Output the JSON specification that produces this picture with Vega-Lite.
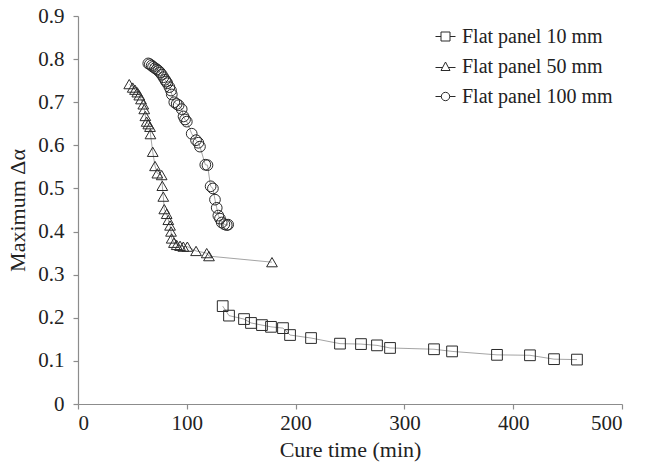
{
  "$schema": "https://vega.github.io/schema/vega-lite/v6.json",
  "width": 544,
  "height": 388,
  "autosize": {"type": "none"},
  "padding": {"left": 78, "top": 16, "right": 27, "bottom": 63},
  "background": "white",
  "config": {
    "view": {"stroke": null},
    "font": "Liberation Serif",
    "axis": {
      "grid": false,
      "domainColor": "#8c8c8c",
      "tickColor": "#8c8c8c",
      "domainWidth": 1.2,
      "tickWidth": 1.2,
      "tickSize": 5,
      "labelFont": "Liberation Serif",
      "labelFontSize": 21,
      "labelColor": "#222",
      "titleFont": "Liberation Serif",
      "titleFontSize": 22,
      "titleFontWeight": "normal",
      "titleColor": "#222"
    },
    "legend": {
      "labelFont": "Liberation Serif",
      "labelFontSize": 20,
      "labelColor": "#222"
    }
  },
  "data": {
    "values": [
      {"series": "Flat panel 10 mm", "t": 133.0, "a": 0.227},
      {"series": "Flat panel 10 mm", "t": 138.8, "a": 0.205},
      {"series": "Flat panel 10 mm", "t": 152.6, "a": 0.197},
      {"series": "Flat panel 10 mm", "t": 159.0, "a": 0.188},
      {"series": "Flat panel 10 mm", "t": 169.1, "a": 0.183},
      {"series": "Flat panel 10 mm", "t": 177.4, "a": 0.179},
      {"series": "Flat panel 10 mm", "t": 188.4, "a": 0.176},
      {"series": "Flat panel 10 mm", "t": 194.9, "a": 0.160},
      {"series": "Flat panel 10 mm", "t": 214.2, "a": 0.153},
      {"series": "Flat panel 10 mm", "t": 240.8, "a": 0.140},
      {"series": "Flat panel 10 mm", "t": 260.1, "a": 0.139},
      {"series": "Flat panel 10 mm", "t": 274.8, "a": 0.136},
      {"series": "Flat panel 10 mm", "t": 286.8, "a": 0.130},
      {"series": "Flat panel 10 mm", "t": 327.2, "a": 0.127},
      {"series": "Flat panel 10 mm", "t": 343.8, "a": 0.122},
      {"series": "Flat panel 10 mm", "t": 385.1, "a": 0.114},
      {"series": "Flat panel 10 mm", "t": 415.4, "a": 0.113},
      {"series": "Flat panel 10 mm", "t": 437.5, "a": 0.104},
      {"series": "Flat panel 10 mm", "t": 458.6, "a": 0.103},

      {"series": "Flat panel 50 mm", "t": 47.1, "a": 0.742},
      {"series": "Flat panel 50 mm", "t": 50.3, "a": 0.734},
      {"series": "Flat panel 50 mm", "t": 52.4, "a": 0.729},
      {"series": "Flat panel 50 mm", "t": 54.5, "a": 0.723},
      {"series": "Flat panel 50 mm", "t": 56.3, "a": 0.716},
      {"series": "Flat panel 50 mm", "t": 57.9, "a": 0.707},
      {"series": "Flat panel 50 mm", "t": 60.0, "a": 0.695},
      {"series": "Flat panel 50 mm", "t": 60.9, "a": 0.684},
      {"series": "Flat panel 50 mm", "t": 61.9, "a": 0.668},
      {"series": "Flat panel 50 mm", "t": 63.1, "a": 0.655},
      {"series": "Flat panel 50 mm", "t": 64.6, "a": 0.649},
      {"series": "Flat panel 50 mm", "t": 66.2, "a": 0.643},
      {"series": "Flat panel 50 mm", "t": 66.6, "a": 0.626},
      {"series": "Flat panel 50 mm", "t": 68.7, "a": 0.585},
      {"series": "Flat panel 50 mm", "t": 70.8, "a": 0.552},
      {"series": "Flat panel 50 mm", "t": 72.9, "a": 0.535},
      {"series": "Flat panel 50 mm", "t": 76.9, "a": 0.531},
      {"series": "Flat panel 50 mm", "t": 77.5, "a": 0.506},
      {"series": "Flat panel 50 mm", "t": 78.4, "a": 0.481},
      {"series": "Flat panel 50 mm", "t": 79.3, "a": 0.452},
      {"series": "Flat panel 50 mm", "t": 81.5, "a": 0.441},
      {"series": "Flat panel 50 mm", "t": 83.0, "a": 0.427},
      {"series": "Flat panel 50 mm", "t": 84.6, "a": 0.414},
      {"series": "Flat panel 50 mm", "t": 85.5, "a": 0.400},
      {"series": "Flat panel 50 mm", "t": 86.1, "a": 0.384},
      {"series": "Flat panel 50 mm", "t": 88.2, "a": 0.374},
      {"series": "Flat panel 50 mm", "t": 90.7, "a": 0.369},
      {"series": "Flat panel 50 mm", "t": 93.8, "a": 0.367},
      {"series": "Flat panel 50 mm", "t": 96.8, "a": 0.365},
      {"series": "Flat panel 50 mm", "t": 100.5, "a": 0.365},
      {"series": "Flat panel 50 mm", "t": 108.5, "a": 0.355},
      {"series": "Flat panel 50 mm", "t": 118.3, "a": 0.350},
      {"series": "Flat panel 50 mm", "t": 120.4, "a": 0.343},
      {"series": "Flat panel 50 mm", "t": 178.3, "a": 0.329},

      {"series": "Flat panel 100 mm", "t": 64.6, "a": 0.790},
      {"series": "Flat panel 100 mm", "t": 66.0, "a": 0.788},
      {"series": "Flat panel 100 mm", "t": 67.7, "a": 0.785},
      {"series": "Flat panel 100 mm", "t": 69.0, "a": 0.782},
      {"series": "Flat panel 100 mm", "t": 70.8, "a": 0.779},
      {"series": "Flat panel 100 mm", "t": 72.5, "a": 0.776},
      {"series": "Flat panel 100 mm", "t": 73.9, "a": 0.773},
      {"series": "Flat panel 100 mm", "t": 75.5, "a": 0.769},
      {"series": "Flat panel 100 mm", "t": 77.0, "a": 0.764},
      {"series": "Flat panel 100 mm", "t": 78.5, "a": 0.758},
      {"series": "Flat panel 100 mm", "t": 80.0, "a": 0.752},
      {"series": "Flat panel 100 mm", "t": 81.0, "a": 0.748},
      {"series": "Flat panel 100 mm", "t": 82.1, "a": 0.744},
      {"series": "Flat panel 100 mm", "t": 84.0, "a": 0.735},
      {"series": "Flat panel 100 mm", "t": 85.5, "a": 0.727},
      {"series": "Flat panel 100 mm", "t": 86.2, "a": 0.718},
      {"series": "Flat panel 100 mm", "t": 88.5, "a": 0.700},
      {"series": "Flat panel 100 mm", "t": 90.7, "a": 0.696},
      {"series": "Flat panel 100 mm", "t": 92.5, "a": 0.693},
      {"series": "Flat panel 100 mm", "t": 95.3, "a": 0.684},
      {"series": "Flat panel 100 mm", "t": 97.0, "a": 0.667},
      {"series": "Flat panel 100 mm", "t": 98.4, "a": 0.660},
      {"series": "Flat panel 100 mm", "t": 100.0, "a": 0.655},
      {"series": "Flat panel 100 mm", "t": 104.5, "a": 0.627},
      {"series": "Flat panel 100 mm", "t": 108.5, "a": 0.612},
      {"series": "Flat panel 100 mm", "t": 110.6, "a": 0.606},
      {"series": "Flat panel 100 mm", "t": 112.1, "a": 0.597},
      {"series": "Flat panel 100 mm", "t": 117.0, "a": 0.555},
      {"series": "Flat panel 100 mm", "t": 119.0, "a": 0.554},
      {"series": "Flat panel 100 mm", "t": 121.9, "a": 0.505},
      {"series": "Flat panel 100 mm", "t": 124.0, "a": 0.500},
      {"series": "Flat panel 100 mm", "t": 125.9, "a": 0.474},
      {"series": "Flat panel 100 mm", "t": 127.5, "a": 0.455},
      {"series": "Flat panel 100 mm", "t": 129.0, "a": 0.437},
      {"series": "Flat panel 100 mm", "t": 130.5, "a": 0.430},
      {"series": "Flat panel 100 mm", "t": 132.1, "a": 0.421},
      {"series": "Flat panel 100 mm", "t": 134.5, "a": 0.417},
      {"series": "Flat panel 100 mm", "t": 136.7, "a": 0.415},
      {"series": "Flat panel 100 mm", "t": 138.0, "a": 0.416}
    ]
  },
  "encoding": {
    "x": {
      "field": "t",
      "type": "quantitative",
      "title": "Cure time (min)",
      "scale": {"domain": [0, 500], "nice": false},
      "axis": {"values": [0, 100, 200, 300, 400, 500], "labelPadding": 3, "titlePadding": 6}
    },
    "y": {
      "field": "a",
      "type": "quantitative",
      "title": "Maximum Δα",
      "scale": {"domain": [0, 0.9], "nice": false},
      "axis": {
        "values": [0, 0.1, 0.2, 0.3, 0.4, 0.5, 0.6, 0.7, 0.8, 0.9],
        "labelExpr": "datum.value == 0 ? '0' : format(datum.value, '.1f')",
        "labelPadding": 9,
        "titlePadding": 8
      }
    }
  },
  "resolve": {"scale": {"shape": "independent"}},
  "layer": [
    {
      "mark": {"type": "line", "color": "#9a9a9a", "strokeWidth": 0.9},
      "encoding": {
        "detail": {"field": "series"},
        "order": {"field": "t", "type": "quantitative"}
      }
    },
    {
      "mark": {"type": "point", "filled": false, "stroke": "#2a2a2a", "strokeWidth": 1, "opacity": 1, "size": 115},
      "encoding": {
        "shape": {
          "field": "series",
          "type": "nominal",
          "scale": {
            "domain": ["Flat panel 10 mm", "Flat panel 50 mm", "Flat panel 100 mm"],
            "range": ["square", "triangle-up", "circle"]
          },
          "legend": null
        }
      }
    },
    {
      "mark": {"type": "point", "filled": false, "opacity": 0, "stroke": "#2a2a2a"},
      "encoding": {
        "shape": {
          "field": "series",
          "type": "nominal",
          "scale": {
            "domain": ["Flat panel 10 mm", "Flat panel 50 mm", "Flat panel 100 mm"],
            "range": [
              "M-1,0H-0.45M0.45,0H1M-0.45,-0.45H0.45V0.45H-0.45Z",
              "M-1,0.1H-0.29M0.29,0.1H1M0,-0.45L0.45,0.4H-0.45Z",
              "M-1,0H-0.42M0.42,0H1M-0.42,0A0.42,0.42,0,1,0,0.42,0A0.42,0.42,0,1,0,-0.42,0Z"
            ]
          },
          "legend": {
            "title": null,
            "orient": "none",
            "legendX": 357,
            "legendY": 10,
            "symbolSize": 400,
            "symbolOpacity": 1,
            "symbolStrokeColor": "#2a2a2a",
            "symbolFillColor": "transparent",
            "symbolStrokeWidth": 1,
            "rowPadding": 9,
            "labelOffset": 6
          }
        }
      }
    }
  ]
}
